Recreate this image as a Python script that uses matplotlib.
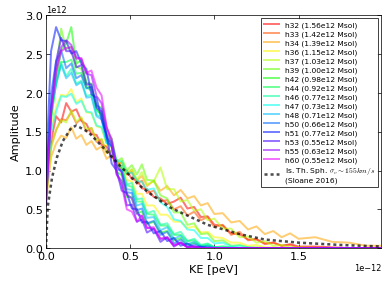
import numpy as np
import matplotlib
matplotlib.use('Agg')
import matplotlib.pyplot as plt

plt.rcParams['font.family'] = 'DejaVu Sans'
plt.rcParams['font.size'] = 12.5
plt.rcParams['mathtext.fontset'] = 'cm'

# kinetic energy bins (units of 1e-12)
ke = [0.0, 0.01, 0.03, 0.06, 0.09, 0.12, 0.15, 0.18, 0.21, 0.24, 0.27, 0.30,
      0.33, 0.36, 0.39, 0.42, 0.45, 0.48, 0.51, 0.54, 0.57, 0.60, 0.64, 0.68,
      0.72, 0.76, 0.80, 0.84, 0.88, 0.92, 0.96, 1.00, 1.05, 1.10, 1.15, 1.20,
      1.25, 1.30, 1.35, 1.40, 1.45, 1.50, 1.60, 1.70, 1.80, 1.90, 1.99]

halos = ['h32', 'h33', 'h34', 'h36', 'h37', 'h39', 'h42', 'h44',
         'h46', 'h47', 'h48', 'h50', 'h51', 'h53', 'h55', 'h60']
masses = ['1.56', '1.42', '1.39', '1.15', '1.03', '1.00', '0.98', '0.92',
          '0.77', '0.73', '0.71', '0.66', '0.77', '0.55', '0.63', '0.55']

# amplitudes (units of 1e12), trailing bins are zero
amp_h32 = [0.70, 0.95, 1.38, 1.70, 1.62, 1.87, 1.76, 1.79, 1.64, 1.60, 1.47, 1.46,
           1.33, 1.31, 1.17, 1.14, 1.01, 1.00, 0.89, 0.88, 0.77, 0.76, 0.66, 0.64,
           0.57, 0.60, 0.65, 0.51, 0.53, 0.40, 0.41, 0.30, 0.29, 0.19, 0.18, 0.11,
           0.11, 0.06, 0.07, 0.03, 0.05, 0.02, 0.02, 0.01]
amp_h33 = [0.65, 0.90, 1.32, 1.52, 1.66, 1.65, 1.75, 1.61, 1.67, 1.50, 1.55, 1.37,
           1.40, 1.23, 1.25, 1.08, 1.11, 0.95, 0.98, 0.83, 0.87, 0.71, 0.74, 0.60,
           0.62, 0.50, 0.54, 0.42, 0.47, 0.36, 0.40, 0.27, 0.30, 0.17, 0.21, 0.10,
           0.12, 0.05, 0.07, 0.03, 0.04, 0.01, 0.01]
amp_h34 = [0.55, 0.80, 1.17, 1.35, 1.45, 1.42, 1.56, 1.41, 1.46, 1.33, 1.38, 1.27,
           1.31, 1.15, 1.20, 1.05, 1.11, 0.95, 1.01, 0.87, 0.93, 0.80, 0.87, 0.74,
           0.80, 0.68, 0.75, 0.64, 0.67, 0.55, 0.58, 0.44, 0.45, 0.33, 0.35, 0.24,
           0.28, 0.18, 0.22, 0.14, 0.19, 0.12, 0.14, 0.08, 0.07, 0.03, 0.03]
amp_h36 = [0.70, 1.00, 1.53, 1.82, 1.98, 1.96, 2.05, 1.88, 1.93, 1.75, 1.74, 1.57,
           1.55, 1.33, 1.30, 1.08, 1.04, 0.88, 0.86, 0.70, 0.70, 0.55, 0.55, 0.43,
           0.43, 0.34, 0.34, 0.26, 0.28, 0.20, 0.21, 0.14, 0.13, 0.07, 0.07, 0.03,
           0.04, 0.01, 0.01]
amp_h37 = [0.60, 0.85, 1.28, 1.52, 1.65, 1.62, 1.78, 1.63, 1.69, 1.53, 1.55, 1.39,
           1.41, 1.23, 1.25, 1.09, 1.13, 0.97, 1.02, 0.88, 0.98, 0.82, 0.86, 1.04,
           0.76, 0.76, 0.60, 0.62, 0.48, 0.50, 0.36, 0.38, 0.25, 0.25, 0.14, 0.15,
           0.07, 0.09, 0.03, 0.04, 0.01, 0.01]
amp_h39 = [0.75, 1.10, 1.74, 2.26, 2.83, 2.56, 2.60, 2.34, 2.31, 2.09, 2.06, 1.84,
           1.81, 1.49, 1.41, 1.12, 1.16, 1.00, 1.07, 0.95, 1.08, 0.88, 0.87, 0.68,
           0.64, 0.46, 0.46, 0.30, 0.32, 0.18, 0.19, 0.09, 0.10, 0.03, 0.04, 0.01,
           0.01]
amp_h42 = [0.70, 1.00, 1.64, 2.16, 2.55, 2.64, 2.85, 2.38, 2.42, 2.13, 2.12, 1.78,
           1.72, 1.38, 1.32, 0.98, 0.94, 0.66, 0.66, 0.45, 0.47, 0.31, 0.34, 0.20,
           0.22, 0.10, 0.13, 0.04, 0.07, 0.02, 0.03, 0.01]
amp_h44 = [0.75, 1.05, 1.69, 2.11, 2.40, 2.40, 2.43, 2.25, 2.26, 2.07, 2.03, 1.79,
           1.72, 1.42, 1.36, 1.07, 1.03, 0.81, 0.79, 0.60, 0.60, 0.44, 0.43, 0.29,
           0.29, 0.17, 0.17, 0.09, 0.10, 0.03, 0.05, 0.01, 0.02, 0.01]
amp_h46 = [0.80, 1.10, 1.74, 2.16, 2.39, 2.22, 2.31, 2.12, 2.16, 1.96, 1.98, 1.72,
           1.69, 1.39, 1.37, 1.07, 1.06, 0.82, 0.84, 0.63, 0.64, 0.45, 0.48, 0.30,
           0.32, 0.18, 0.21, 0.09, 0.12, 0.04, 0.06, 0.01, 0.02, 0.01]
amp_h47 = [0.70, 0.95, 1.49, 1.76, 1.96, 1.95, 1.99, 1.86, 1.90, 1.76, 1.75, 1.58,
           1.56, 1.36, 1.32, 1.12, 1.12, 0.97, 0.97, 0.87, 0.85, 0.75, 0.77, 0.59,
           0.53, 0.37, 0.35, 0.24, 0.23, 0.13, 0.13, 0.06, 0.07, 0.02, 0.03, 0.01]
amp_h48 = [0.80, 1.10, 1.79, 2.11, 2.36, 2.19, 2.26, 2.10, 2.14, 1.94, 1.95, 1.70,
           1.66, 1.36, 1.31, 1.01, 1.00, 0.76, 0.75, 0.55, 0.57, 0.39, 0.40, 0.23,
           0.27, 0.12, 0.16, 0.05, 0.08, 0.02, 0.03, 0.01]
amp_h50 = [0.85, 1.25, 1.99, 2.41, 2.55, 2.32, 2.38, 2.19, 2.23, 2.06, 2.08, 1.84,
           1.79, 1.46, 1.36, 1.04, 0.99, 0.72, 0.71, 0.49, 0.51, 0.32, 0.35, 0.17,
           0.21, 0.06, 0.11, 0.02, 0.05, 0.01, 0.02]
amp_h51 = [0.90, 1.50, 2.54, 2.85, 2.68, 2.67, 2.51, 2.54, 2.38, 2.31, 1.98, 1.94,
           1.66, 1.46, 1.09, 1.00, 0.74, 0.71, 0.51, 0.50, 0.33, 0.34, 0.19, 0.22,
           0.09, 0.13, 0.03, 0.06, 0.01, 0.02]
amp_h53 = [0.55, 1.00, 1.84, 2.41, 2.71, 2.54, 2.54, 2.33, 2.36, 2.11, 2.11, 1.81,
           1.76, 1.43, 1.31, 0.95, 0.86, 0.55, 0.56, 0.34, 0.37, 0.20, 0.25, 0.08,
           0.14, 0.02, 0.07, 0.01, 0.02]
amp_h55 = [0.60, 0.95, 1.74, 2.31, 2.59, 2.68, 2.62, 2.46, 2.44, 2.25, 2.23, 1.96,
           1.87, 1.55, 1.41, 1.07, 0.97, 0.69, 0.64, 0.44, 0.41, 0.26, 0.25, 0.12,
           0.13, 0.04, 0.07, 0.01, 0.02]
amp_h60 = [0.65, 1.00, 1.74, 2.26, 2.54, 2.58, 2.59, 2.44, 2.45, 2.26, 2.29, 2.07,
           1.97, 1.57, 1.36, 0.95, 0.81, 0.50, 0.47, 0.34, 0.42, 0.26, 0.27, 0.12,
           0.14, 0.03, 0.07, 0.01, 0.02]

amps = [amp_h32, amp_h33, amp_h34, amp_h36, amp_h37, amp_h39, amp_h42, amp_h44,
        amp_h46, amp_h47, amp_h48, amp_h50, amp_h51, amp_h53, amp_h55, amp_h60]

# isothermal sphere reference curve
iso_ke = [0.0, 0.01, 0.036, 0.065, 0.10, 0.15, 0.18, 0.25, 0.36, 0.44, 0.56,
          0.62, 0.74, 0.96, 1.15, 1.30, 1.50, 1.75, 1.99]
iso_amp = [0.0, 0.53, 0.91, 1.17, 1.38, 1.55, 1.58, 1.50, 1.25, 1.06, 0.80,
           0.70, 0.52, 0.30, 0.18, 0.11, 0.07, 0.04, 0.02]

fig = plt.figure(figsize=(6, 4.5), dpi=65)
ax = fig.add_axes([46/390, 1-249/293, 335/390, 233/293])

colors = plt.cm.hsv(np.linspace(0, 0.83, len(halos)))
for i in range(len(halos)):
    a = amps[i] + [0.0]*(len(ke)-len(amps[i]))
    ax.plot(np.array(ke)*1e-12, np.array(a)*1e12, color=colors[i], lw=2.2, alpha=0.55,
            label=halos[i]+' ('+masses[i]+'e12 Msol)')

ax.plot(np.array(iso_ke)*1e-12, np.array(iso_amp)*1e12, color='k', alpha=0.7, lw=2.8,
        dashes=(1.2, 1.2),
        label='Is. Th. Sph. $\\sigma_v \\sim 155km/s$\n(Sloane 2016)')

ax.set_xlim(0, 1.99e-12)
ax.set_ylim(0, 3e12)
ax.set_xticks([0, 0.5e-12, 1.0e-12, 1.5e-12])
ax.set_yticks(np.arange(0, 3.01e12, 0.5e12))
ax.tick_params(direction='in', top=True, right=True, length=4)
ax.xaxis.get_offset_text().set_fontsize(9)
ax.yaxis.get_offset_text().set_fontsize(9)
ax.set_xlabel('KE [peV]')
ax.set_ylabel('Amplitude')

leg = ax.legend(loc='upper right', fontsize=8.3, labelspacing=0.3, fancybox=False,
                borderaxespad=0.4)
leg.get_frame().set_edgecolor('k')

fig.savefig('out.png', dpi=65)
